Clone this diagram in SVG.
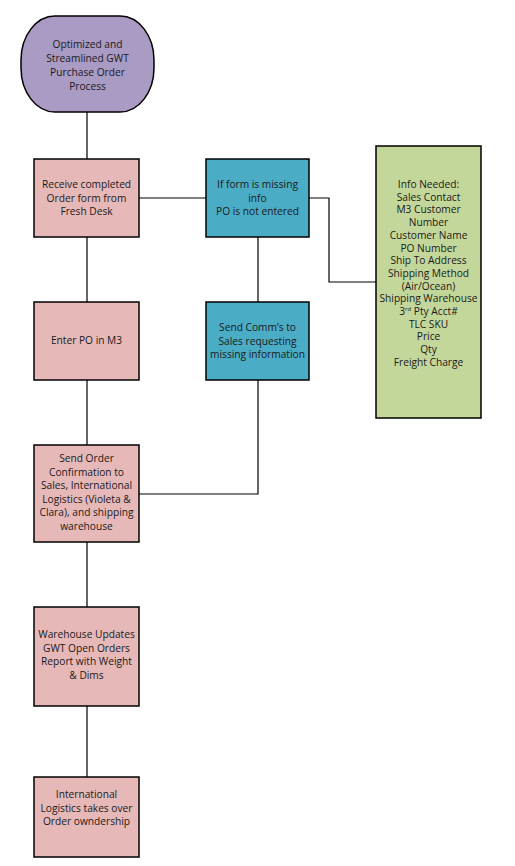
<svg xmlns="http://www.w3.org/2000/svg" width="515" height="866" viewBox="0 0 515 866">
<style>
.n{stroke:#000;stroke-width:1.5}
.pink{fill:#e6b9b8}
.blue{fill:#4bacc6}
.green{fill:#c4d79b}
.purple{fill:#a99bc4}
text{font-family:"Open Sans","Noto Sans",sans-serif;font-size:10.2px;fill:#1a1a1a;text-anchor:middle}
.c{fill:none;stroke:#000;stroke-width:1.2}
</style>
<rect width="515" height="866" fill="#fff"/>
<g id="connectors">
<path class="c" d="M87 112V159M87 237V302M87 380V445M87 542V607M87 706V777"/>
<path class="c" d="M139 198H206M309 198H329V282H376"/>
<path class="c" d="M258 237V302M258 380V494H139"/>
</g>
<g id="start">
<rect class="n purple" x="21" y="16" width="133" height="96" rx="34" ry="44"/>
<text x="87.5" y="48">Optimized and</text>
<text x="87.5" y="62">Streamlined GWT</text>
<text x="87.5" y="76">Purchase Order</text>
<text x="87.5" y="90">Process</text>
</g>
<g id="receive">
<rect class="n pink" x="34" y="159" width="105" height="78"/>
<text x="86.5" y="188">Receive completed</text>
<text x="86.5" y="201.5">Order form from</text>
<text x="86.5" y="215">Fresh Desk</text>
</g>
<g id="missing">
<rect class="n blue" x="206" y="159" width="103" height="78"/>
<text x="257.5" y="188">If form is missing</text>
<text x="257.5" y="201.5">info</text>
<text x="257.5" y="215">PO is not entered</text>
</g>
<g id="info">
<rect class="n green" x="376" y="146" width="105" height="272"/>
<text x="428.5" y="188">Info Needed:</text>
<text x="428.5" y="200.7">Sales Contact</text>
<text x="428.5" y="213.4">M3 Customer</text>
<text x="428.5" y="226.1">Number</text>
<text x="428.5" y="238.8">Customer Name</text>
<text x="428.5" y="251.5">PO Number</text>
<text x="428.5" y="264.2">Ship To Address</text>
<text x="428.5" y="276.9">Shipping Method</text>
<text x="428.5" y="289.6">(Air/Ocean)</text>
<text x="428.5" y="302.3">Shipping Warehouse</text>
<text x="428.5" y="315">3<tspan font-size="6" dy="-4">rd</tspan><tspan dy="4"> Pty Acct#</tspan></text>
<text x="428.5" y="327.7">TLC SKU</text>
<text x="428.5" y="340.4">Price</text>
<text x="428.5" y="353.1">Qty</text>
<text x="428.5" y="365.8">Freight Charge</text>
</g>
<g id="enter">
<rect class="n pink" x="34" y="302" width="105" height="78"/>
<text x="86.5" y="344">Enter PO in M3</text>
</g>
<g id="sendcomms">
<rect class="n blue" x="206" y="302" width="103" height="78"/>
<text x="257.5" y="331">Send Comm’s to</text>
<text x="257.5" y="344.5">Sales requesting</text>
<text x="257.5" y="358">missing information</text>
</g>
<g id="confirm">
<rect class="n pink" x="34" y="445" width="105" height="97"/>
<text x="86.5" y="462">Send Order</text>
<text x="86.5" y="475.5">Confirmation to</text>
<text x="86.5" y="489">Sales, International</text>
<text x="86.5" y="502.5">Logistics (Violeta &amp;</text>
<text x="86.5" y="516">Clara), and shipping</text>
<text x="86.5" y="529.5">warehouse</text>
</g>
<g id="warehouse">
<rect class="n pink" x="34" y="607" width="105" height="99"/>
<text x="86.5" y="638">Warehouse Updates</text>
<text x="86.5" y="651.5">GWT Open Orders</text>
<text x="86.5" y="665">Report with Weight</text>
<text x="86.5" y="678.5">&amp; Dims</text>
</g>
<g id="takeover">
<rect class="n pink" x="34" y="777" width="105" height="80"/>
<text x="86.5" y="798">International</text>
<text x="86.5" y="811.5">Logistics takes over</text>
<text x="86.5" y="825">Order owndership</text>
</g>
</svg>
